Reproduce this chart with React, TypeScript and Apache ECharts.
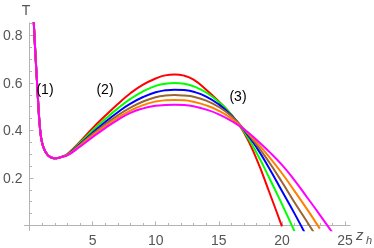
import React, { useEffect, useRef } from "react";
import * as echarts from "echarts";

// Shared steep left branch (all curves coincide here)
const leftX = [0.3, 0.34, 0.4, 0.47, 0.55, 0.62, 0.7, 0.76, 0.82, 0.88, 0.95, 1.03, 1.12, 1.25, 1.4, 1.6, 1.8, 2.0, 2.25, 2.5];
const leftT = [0.9, 0.853, 0.79, 0.72, 0.645, 0.58, 0.505, 0.455, 0.415, 0.385, 0.36, 0.342, 0.327, 0.312, 0.3, 0.29, 0.285, 0.283, 0.284, 0.288];

// z_h sample positions for the main part of each curve
const mainX = [3, 4, 5, 6, 7, 8, 9, 10, 10.75, 11.5, 12.25, 13, 14, 15, 16, 17, 18, 19, 20, 21, 22, 23, 24];

const redT = [0.301, 0.353, 0.41, 0.462, 0.512, 0.557, 0.593, 0.619, 0.632, 0.636, 0.631, 0.614, 0.572, 0.522, 0.466, 0.39, 0.278, 0.14, -0.004];
const greenT = [0.3, 0.348, 0.4, 0.448, 0.493, 0.533, 0.565, 0.588, 0.597, 0.6, 0.597, 0.586, 0.56, 0.52, 0.466, 0.395, 0.305, 0.2, 0.09, -0.025];
const blueT = [0.299, 0.343, 0.391, 0.436, 0.477, 0.513, 0.541, 0.561, 0.569, 0.572, 0.57, 0.563, 0.543, 0.51, 0.463, 0.402, 0.328, 0.24, 0.145, 0.05, -0.05];
const brownT = [0.298, 0.34, 0.385, 0.426, 0.464, 0.496, 0.522, 0.54, 0.547, 0.549, 0.547, 0.542, 0.526, 0.499, 0.46, 0.405, 0.34, 0.265, 0.183, 0.097, 0.015, -0.07];
const orangeT = [0.297, 0.336, 0.379, 0.418, 0.454, 0.484, 0.507, 0.522, 0.527, 0.528, 0.527, 0.521, 0.506, 0.483, 0.45, 0.405, 0.35, 0.288, 0.22, 0.145, 0.068, -0.013];
const magentaT = [0.295, 0.332, 0.372, 0.41, 0.445, 0.474, 0.493, 0.504, 0.507, 0.508, 0.507, 0.502, 0.488, 0.468, 0.44, 0.405, 0.36, 0.31, 0.255, 0.19, 0.118, 0.045, -0.03];

const curveNames = ["red", "green", "blue", "brown", "orange", "magenta"];
const curveValues = [redT, greenT, blueT, brownT, orangeT, magentaT];
const curveColors = ["#ff0000", "#00ff00", "#0000ff", "#996633", "#ff8000", "#ff00ff"];

const xMajorTicks = [5, 10, 15, 20, 25];
const xMinorTicks = [1, 2, 3, 4, 6, 7, 8, 9, 11, 12, 13, 14, 16, 17, 18, 19, 21, 22, 23, 24];
const yMajorTicks = [0.2, 0.4, 0.6, 0.8];
const yMinorTicks = [0.05, 0.1, 0.15, 0.25, 0.3, 0.35, 0.45, 0.5, 0.55, 0.65, 0.7, 0.75, 0.85];

const regionLabels = ["(1)", "(2)", "(3)"];

const FONT = "Liberation Sans, Arial, sans-serif";
const AXIS_COLOR = "#b3b3b3";
const LABEL_COLOR = "#555555";

export default function App() {
  const ref = useRef<HTMLDivElement>(null);

  useEffect(() => {
    if (!ref.current) return;
    const chart = echarts.init(ref.current, null, { renderer: "svg" });

    const series = curveValues.map((vals, k) => {
      const data: number[][] = leftX.map((x, i) => [x, leftT[i]]);
      vals.forEach((t, i) => data.push([mainX[i], t]));
      return {
        name: curveNames[k],
        type: "line",
        xAxisIndex: 0,
        yAxisIndex: 0,
        data,
        symbol: "none",
        showSymbol: false,
        smooth: 0.5,
        clip: true,
        lineStyle: { color: curveColors[k], width: 2 },
        z: 3 + k,
      };
    });

    const xMin = -0.4, xMax = 25.4, yMin = -0.02, yMax = 0.853;

    chart.setOption({
      animation: false,
      grid: { left: 19.9, top: 22.9, width: 330.2, height: 207.35, containLabel: false },
      xAxis: [
        {
          type: "value",
          min: xMin,
          max: xMax,
          axisLine: { show: true, onZero: true, onZeroAxisIndex: 0, lineStyle: { color: AXIS_COLOR, width: 1 } },
          axisTick: { show: true, inside: true, length: 4, customValues: xMajorTicks, lineStyle: { color: AXIS_COLOR } },
          axisLabel: { show: true, customValues: xMajorTicks, margin: 3, color: LABEL_COLOR, fontSize: 14, fontFamily: FONT },
          splitLine: { show: false },
        },
        {
          type: "value",
          min: xMin,
          max: xMax,
          position: "bottom",
          axisLine: { show: false, onZero: true, onZeroAxisIndex: 0 },
          axisTick: { show: true, inside: true, length: 2.5, customValues: xMinorTicks, lineStyle: { color: AXIS_COLOR } },
          axisLabel: { show: false },
          splitLine: { show: false },
        },
      ],
      yAxis: [
        {
          type: "value",
          min: yMin,
          max: yMax,
          axisLine: { show: true, onZero: true, onZeroAxisIndex: 0, lineStyle: { color: AXIS_COLOR, width: 1 } },
          axisTick: { show: true, inside: true, length: 4, customValues: yMajorTicks, lineStyle: { color: AXIS_COLOR } },
          axisLabel: { show: true, customValues: yMajorTicks, margin: 2, color: LABEL_COLOR, fontSize: 14, fontFamily: FONT },
          splitLine: { show: false },
        },
        {
          type: "value",
          min: yMin,
          max: yMax,
          position: "left",
          axisLine: { show: false, onZero: true, onZeroAxisIndex: 0 },
          axisTick: { show: true, inside: true, length: 2.5, customValues: yMinorTicks, lineStyle: { color: AXIS_COLOR } },
          axisLabel: { show: false },
          splitLine: { show: false },
        },
      ],
      series,
      graphic: [
        { type: "text", x: 26, y: 10, z: 100, style: { text: "T", fill: LABEL_COLOR, font: `14px ${FONT}`, align: "center", verticalAlign: "middle" } },
        { type: "text", x: 356, y: 234.8, z: 100, style: { text: "z", fill: LABEL_COLOR, font: `italic 15px ${FONT}`, align: "left", verticalAlign: "middle" } },
        { type: "text", x: 366, y: 239.5, z: 100, style: { text: "h", fill: LABEL_COLOR, font: `italic 11px ${FONT}`, align: "left", verticalAlign: "middle" } },
        { type: "text", x: 45, y: 89, z: 100, style: { text: regionLabels[0], fill: "#000", font: `14px ${FONT}`, align: "center", verticalAlign: "middle" } },
        { type: "text", x: 105, y: 89, z: 100, style: { text: regionLabels[1], fill: "#000", font: `14px ${FONT}`, align: "center", verticalAlign: "middle" } },
        { type: "text", x: 238, y: 96, z: 100, style: { text: regionLabels[2], fill: "#000", font: `14px ${FONT}`, align: "center", verticalAlign: "middle" } },
      ],
    });

    return () => chart.dispose();
  }, []);

  return <div ref={ref} style={{ position: "fixed", left: 0, top: 0, width: 374, height: 248 }} />;
}
